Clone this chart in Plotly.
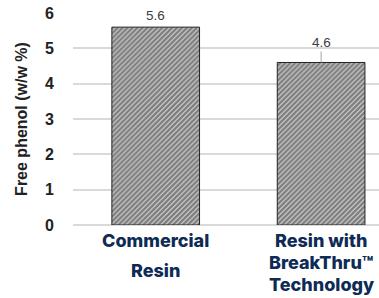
import plotly.graph_objects as go

categories = ["Commercial Resin", "Resin with BreakThru™ Technology"]
category_lines = [["Commercial", "Resin"], ["Resin with", "BreakThru™", "Technology"]]
free_phenol = [5.6, 4.6]
value_labels = ["5.6", "4.6"]
y_ticks = [0, 1, 2, 3, 4, 5, 6]

line_gap = [30, 22]  # px spacing between label lines per category

fig = go.Figure()
fig.add_trace(go.Bar(
    x=categories, y=free_phenol, width=0.53,
    marker=dict(color="white",
                line=dict(color="#222222", width=1),
                pattern=dict(shape="/", fgcolor="#000000", bgcolor="white",
                             size=3.5, solidity=0.8)),
    hoverinfo="skip",
))

# value labels
fig.add_annotation(x=categories[0], y=free_phenol[0], text=value_labels[0],
                   showarrow=False, yanchor="bottom", yshift=2,
                   font=dict(family="Liberation Sans", size=13.5, color="#404040"))
fig.add_annotation(x=categories[1], y=free_phenol[1], text=value_labels[1],
                   showarrow=True, arrowhead=0, arrowwidth=1, arrowcolor="#a6a6a6",
                   ax=0, ay=-20, standoff=0,
                   font=dict(family="Liberation Sans", size=13.5, color="#404040"))

# category labels
for ci, (cat, lines) in enumerate(zip(categories, category_lines)):
    for li, txt in enumerate(lines):
        fig.add_annotation(x=cat, y=0, yref="y", text=txt,
                           showarrow=False, yanchor="middle",
                           yshift=-15 - li * line_gap[ci],
                           font=dict(family="Inter", size=18, weight=800, color="#0d2b55"))

fig.update_layout(
    width=379, height=298,
    margin=dict(l=73, r=0, t=13, b=73),
    paper_bgcolor="white", plot_bgcolor="white",
    showlegend=False,
    xaxis=dict(range=[-0.5, 1.35], showticklabels=False, showgrid=False,
               zeroline=False, showline=False, fixedrange=True),
    yaxis=dict(range=[0, 6], tickvals=y_ticks,
               ticktext=["<b>%d</b>" % v for v in y_ticks],
               tickfont=dict(family="Liberation Sans", size=16, color="#222222"),
               ticklabelstandoff=18, automargin=False, fixedrange=True,
               showgrid=True, gridcolor="#d9d9d9", gridwidth=1.5,
               zeroline=True, zerolinecolor="#d9d9d9", zerolinewidth=1.5,
               title=dict(text="<b>Free phenol (w/w %)</b>", standoff=13,
                          font=dict(family="Liberation Sans", size=16, color="#222222"))),
)

fig.write_html("out.html", config={"displayModeBar": False},
               post_script="document.body.style.margin='0';document.body.style.overflow='hidden';")
